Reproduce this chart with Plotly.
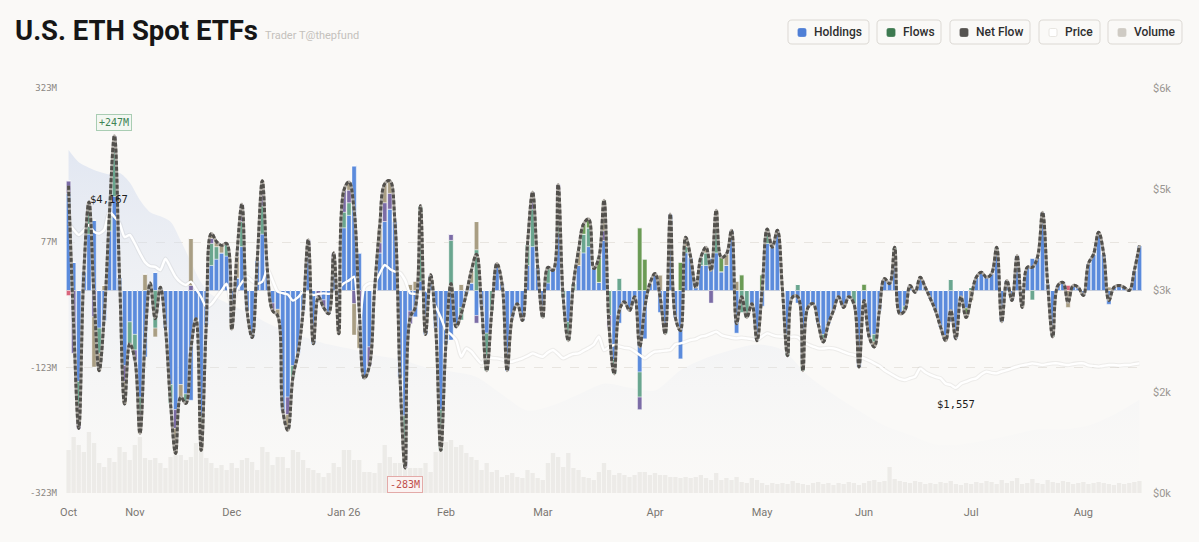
import pandas as pd
import plotly.graph_objects as go

# trading days shown on the chart (US market days)
holidays = ["2025-11-27", "2025-12-25", "2026-01-01", "2026-01-19", "2026-02-16",
            "2026-04-03", "2026-05-25", "2026-06-19", "2026-07-03"]
days = pd.bdate_range("2025-10-15", "2026-08-18")
days = days[~days.isin(pd.to_datetime(holidays))]
dates = [d.strftime("%Y-%m-%d") for d in days]

month_labels = ["Oct", "Nov", "Dec", "Jan 26", "Feb", "Mar", "Apr", "May", "Jun", "Jul", "Aug"]

# daily flows per fund group, $M
blue = [155, 45, -145, 30, 90, 112, -60, -48, 95, 150,
        21, -120, -50, -70, -170, -106, 12, 29, 5, -60,
        -150, -190, -150, -165, -175, -45, -200, -55, 40, 50,
        60, 55, -45, 20, 70, -32, -75, 48, 90, 32,
        -20, -30, -191, -170, -120, -100, -32, 60, -85, 0,
        -15, -37, 30, -50, 100, 120, 199, 60, -140, -90,
        0, 60, 110, 130, 110, -138, -200, -33, -42, 15,
        -70, 25, -60, -190, -85, -79, -58, -27, -5, 12,
        -40, -27, -68, 0, 43, 11, -128, -43, -21, -48,
        40, 70, 37, -30, 12, 32, 90, 0, -50, 0,
        40, 60, 70, 35, 13, 80, 0, -110, -52, -18,
        -32, -10, -130, -77, 11, 27, -35, -55, 122, -43,
        -109, 60, 53, 5, 40, 40, 52, 60, 30, 40,
        96, -68, 0, 0, -21, -80, -25, 75, 69, 96,
        0, -70, -10, -20, -110, -27, -21, -53, -70, -53,
        -32, -10, -27, -10, 0, -122, -26, -74, -70, -32,
        19, 11, 40, -37, -25, 8, -3, 21, 5, -13,
        -32, -58, -72, -50, -77, -10, -28, 0, 21, 29,
        21, 27, 60, -50, 16, -16, 56, -15, 37, 52,
        53, 125, 11, -60, 8, 13, 0, 8, 5, -8,
        43, 58, 93, 58, -22, 5, 8, 5, 0, 32,
        72]
teal = [0, 0, -40, 0, 40, 0, -40, 0, 25, 75,
        0, 0, -35, -25, -25, 0, 0, -60, 0, 0,
        -30, 0, 0, -15, 0, 0, -35, 0, 35, 20,
        0, 20, 0, 0, 40, 0, 0, 0, 45, 0,
        0, 0, 0, 0, -18, 0, 0, 0, 0, 0,
        0, 0, 0, 0, 25, 20, 0, 0, 0, 0,
        0, 0, 0, 0, 0, 0, -45, 0, 0, 120,
        0, 0, 0, -65, 0, 80, 0, -20, 0, 0,
        65, 0, -60, -32, 0, 0, 0, 0, 0, 0,
        34, 60, 0, -13, 25, 0, 40, -11, -30, 11,
        0, 30, 30, 0, 0, 0, -40, -23, 20, 0,
        0, 0, -40, 0, 0, 0, 0, -14, 0, 0,
        0, 10, 0, 0, 13, 20, 0, 50, 0, 0,
        0, 0, -35, -43, 0, 0, 0, 23, 0, 0,
        0, -34, 0, 10, -18, 0, 0, 0, -12, 0,
        0, 0, 0, 0, -21, 0, 0, 0, -12, 0,
        0, 0, 29, 0, -7, 0, 0, 0, 0, 0,
        0, 0, 0, 18, 0, 0, 0, 5, 0, 0,
        0, 0, 9, 0, 0, 0, 0, 0, 0, -15,
        0, 0, 0, -14, 0, 0, 0, 0, 0, 0,
        0, 0, 0, 0, 0, 0, 0, 0, 0, 0,
        0]
purple = [20, -100, -35, 0, 0, -42, 0, 0, 0, 22,
          0, -25, 0, -15, -15, 0, 0, 0, 0, 0,
          0, -30, 0, 0, 8, 0, 0, 0, 8, 0,
          0, 0, 0, 0, 28, 0, 0, 0, 25, 0,
          -12, 0, 0, -28, 0, 0, 0, 21, 0, -10,
          -12, 0, 30, 0, 35, 20, -21, -32, 0, -30,
          0, 16, 30, 25, 0, 0, -38, -20, 0, 0,
          0, 0, 0, 0, 0, 10, 0, 0, 0, 0,
          -12, 0, 0, 0, 0, 0, 0, 0, 0, 0,
          0, 27, 0, 0, 0, 0, 39, 0, 0, 0,
          0, 0, 0, 0, 0, 15, -18, 0, 0, 0,
          0, 0, -20, 0, 0, 0, 0, 0, 0, 0,
          0, 0, 0, 0, 0, 0, -20, 0, 0, 0,
          0, 0, 0, 0, 0, 0, 0, 0, 0, 0,
          0, 0, 0, 0, 0, 0, 0, 0, 0, 0,
          0, 0, 0, 0, 0, 0, 0, 0, 0, 0,
          0, 0, 0, 0, 0, 0, 0, 0, 0, 0,
          0, 0, 0, 0, 0, 0, 0, 0, 0, 0,
          0, 0, 0, 0, 0, 0, 0, 0, 0, 0,
          0, 0, 0, 0, 0, 0, 0, 0, 0, 0,
          0, 0, 0, 0, 0, 0, 0, 0, 0, 0,
          0]
khaki = [0, 0, 0, 0, 11, -80, -28, 8, 0, 0,
         0, -36, 0, 0, -18, 26, 0, -14, 0, 0,
         0, -40, -20, 0, 75, 0, -20, 0, 8, 8,
         12, 0, -17, 35, 0, 0, 0, 0, 15, 0,
         0, -10, 0, -25, 0, 0, 0, 0, 0, 0,
         0, 0, 0, -19, 0, 13, -50, -60, 0, 0,
         0, 25, 30, 20, 0, 0, 0, 10, 15, 0,
         0, 0, 0, 0, 0, 0, 0, 10, 0, 20,
         45, 0, 0, 0, 0, 0, 0, 0, 0, 0,
         0, 0, 0, 0, 0, 0, 0, 0, 0, 0,
         24, 0, 0, 0, 0, 29, 0, 0, 0, 0,
         0, 0, 0, 0, 0, 0, 25, 0, 0, 0,
         0, 15, 0, 0, 0, 9, 0, 18, 0, 18,
         0, 15, 0, 0, 0, 0, 0, 0, 0, 0,
         0, 0, 0, 0, 0, 0, 0, 0, 0, 0,
         0, 0, 0, 0, 0, 0, 0, 0, -8, 0,
         0, 0, 0, 0, 0, 0, 0, 0, 0, 0,
         0, 0, -8, 0, 0, 0, 0, -16, 0, 0,
         0, 0, 0, 0, 0, 0, 0, -12, 0, 0,
         0, 0, 0, 0, 0, 0, -27, 0, 0, 0,
         0, 0, 0, 0, 6, 0, 0, 0, 0, 0,
         0]
green = [0, 0, 0, 0, 0, 0, 0, 0, 0, 0,
         0, 0, 0, 0, 0, 0, 0, 0, 0, 0,
         0, 0, 0, 0, 0, 0, 0, 0, 0, 0,
         0, 0, 0, 0, 0, 0, 0, 0, 0, 0,
         0, 0, 0, 0, 0, 0, 0, 0, 0, 0,
         0, 0, 0, 0, 0, 0, 0, 0, 0, 0,
         0, 0, 0, 0, 0, 0, 0, 0, 0, 0,
         0, 0, 0, 0, 0, 0, 0, 0, 0, 0,
         0, 0, 0, 0, 0, 0, 0, 0, 0, 0,
         0, 0, 0, 0, 0, 0, 0, 0, 0, 0,
         0, 16, 14, 0, 40, 20, 0, 0, 0, 0,
         0, 0, 100, 50, 0, 0, 0, 0, 0, 0,
         45, 0, 0, 0, 0, 0, 0, 0, 23, 0,
         0, 0, 25, 0, 0, 0, 25, 0, 0, 0,
         0, 0, 0, 0, 0, 0, 0, 0, 0, 0,
         0, 0, 0, 0, 0, 0, 10, 0, 0, 0,
         0, 0, 0, 0, 0, 0, 0, 0, 0, 0,
         0, 0, 0, 0, 0, 0, -15, 0, 0, 0,
         0, 0, 0, 0, 0, 0, 0, 0, 0, 0,
         0, 0, 0, 0, 0, 0, 0, 0, 0, 0,
         0, 0, 0, 0, 0, 0, 0, 0, 0, 0,
         0]
pink = [-8] + [0] * 195 + [8] + [0] * 14

# ETH price, USD
price = [3996, 3900, 3822, 3890, 3970, 3870, 3845, 3900, 4167, 4090,
         3996, 3790, 3822, 3700, 3551, 3420, 3360, 3350, 3304, 3470,
         3340, 3200, 3120, 3082, 3131, 3020, 2900, 2760, 2800, 2900,
         3000, 3100, 2760, 3000, 3120, 3205, 3140, 3100, 3131, 3320,
         3150, 2983, 2960, 2940, 2850, 2900, 2980, 2960, 2933, 2950,
         2958, 2950, 2960, 3030, 3107, 3150, 3205, 2415, 3050, 3107,
         3107, 3250, 3378, 3320, 3279, 3260, 3150, 2958, 2950, 2933,
         3008, 2900, 2760, 2600, 2415, 2350, 2267, 2019, 2143, 2093,
         2000, 1921, 2019, 2000, 1995, 1980, 1950, 1945, 1970, 1995,
         2030, 2068, 2040, 2019, 2080, 2118, 2060, 1995, 2030, 2060,
         2068, 2110, 2150, 2200, 2316, 2118, 2160, 2193, 2170, 2150,
         2143, 2100, 2044, 1995, 2050, 2093, 2100, 2110, 2118, 2200,
         2217, 2240, 2267, 2280, 2316, 2330, 2360, 2390, 2340, 2316,
         2300, 2291, 2300, 2291, 2280, 2267, 2320, 2365, 2340, 2320,
         2316, 2300, 2316, 2310, 2242, 2200, 2170, 2143, 2140, 2150,
         2143, 2120, 2090, 2060, 2044, 2020, 1995, 1960, 1921, 1880,
         1820, 1773, 1730, 1690, 1674, 1700, 1724, 1847, 1790, 1750,
         1720, 1699, 1620, 1600, 1557, 1620, 1649, 1680, 1699, 1760,
         1798, 1780, 1773, 1800, 1820, 1847, 1870, 1890, 1905, 1921,
         1910, 1896, 1910, 1921, 1921, 1905, 1896, 1910, 1921, 1921,
         1890, 1880, 1872, 1885, 1896, 1896, 1890, 1896, 1896, 1910,
         1921]

# traded volume, $M
volume = [1720, 2240, 1920, 1640, 2440, 2000, 1200, 1040, 1400, 1240,
          1840, 1640, 1320, 1920, 2240, 1400, 1320, 1400, 1200, 1000,
          1440, 1520, 1520, 1320, 1440, 2000, 1840, 1400, 1200, 1000,
          1120, 920, 1200, 1000, 1320, 1400, 1240, 920, 1840, 1640,
          1120, 1440, 1440, 1000, 1720, 1640, 1320, 1000, 920, 800,
          640, 800, 1200, 1040, 1720, 1720, 1320, 1320, 840, 840,
          800, 1200, 1920, 1440, 1200, 1200, 1320, 1000, 1000, 1000,
          1200, 840, 1640, 1720, 2040, 2120, 1840, 1920, 1600, 1440,
          1320, 920, 1200, 840, 920, 640, 720, 800, 640, 600,
          920, 800, 600, 520, 1200, 1600, 1440, 1040, 1600, 1000,
          920, 640, 600, 520, 840, 1200, 920, 720, 800, 720,
          640, 720, 840, 840, 720, 800, 720, 720, 640, 640,
          600, 640, 600, 640, 720, 600, 520, 800, 520, 600,
          520, 640, 440, 400, 600, 520, 400, 320, 400, 360,
          400, 360, 480, 400, 360, 320, 400, 440, 360, 400,
          320, 400, 360, 440, 400, 320, 400, 480, 520, 440,
          480, 1040, 560, 480, 440, 400, 480, 440, 360, 400,
          360, 440, 400, 480, 360, 320, 400, 360, 440, 400,
          480, 440, 360, 520, 400, 480, 600, 360, 400, 560,
          400, 360, 520, 440, 400, 480, 440, 360, 400, 440,
          360, 400, 440, 400, 360, 320, 400, 360, 400, 440,
          480]

# total holdings, $B (read every few sessions)
holdings_idx = [0, 2, 4, 6, 8, 10, 12, 14, 16, 18, 20, 22, 24, 26, 28, 32, 36, 40, 45,
                50, 55, 60, 65, 70, 75, 80, 85, 90, 95, 100, 105, 110, 115, 120, 125,
                130, 135, 140, 145, 150, 155, 160, 165, 170, 175, 180, 185, 190, 195,
                200, 205, 210]
holdings_b = [25.4, 24.5, 24.1, 23.8, 23.6, 23.7, 23.0, 21.7, 20.8, 20.5, 20.1, 18.7,
              17.1, 15.6, 14.7, 13.9, 13.2, 12.4, 11.7, 11.1, 10.7, 10.2, 9.9, 9.3, 9.0,
              8.6, 7.3, 6.1, 6.5, 7.3, 8.1, 7.8, 7.6, 9.1, 10.0, 10.6, 11.0, 10.6, 8.7,
              7.3, 6.1, 5.0, 4.3, 3.6, 3.6, 3.9, 4.3, 4.7, 4.7, 5.0, 5.8, 6.9]

net_flow = [b + t + p + k + g + r for b, t, p, k, g, r in zip(blue, teal, purple, khaki, green, pink)]
month_ticks = [d for k, d in enumerate(dates) if k == 0 or d[:7] != dates[k - 1][:7]]

BG = "#faf9f7"
W, H = 1199, 542
ML, MR, MT, MB = 66, 57, 88, 49
PW, PH = W - ML - MR, H - MT - MB


def px(x):
    return (x - ML) / PW


def py(y):
    return (H - MB - y) / PH


def rrect(x0, y0, x1, y1, r):
    # rounded rectangle path in paper coords, input in pixels
    pts = [("M", x0 + r, y0), ("L", x1 - r, y0), ("Q", x1, y0, x1, y0 + r),
           ("L", x1, y1 - r), ("Q", x1, y1, x1 - r, y1), ("L", x0 + r, y1),
           ("Q", x0, y1, x0, y1 - r), ("L", x0, y0 + r), ("Q", x0, y0, x0 + r, y0)]
    out = ""
    for p in pts:
        c = p[1:]
        xy = []
        for j in range(0, len(c), 2):
            xy.append(f"{px(c[j]):.5f},{py(c[j + 1]):.5f}")
        out += p[0] + " " + " ".join(xy) + " "
    return out + "Z"


fig = go.Figure()

# holdings area in the background
fig.add_trace(go.Scatter(
    x=[dates[i] for i in holdings_idx], y=holdings_b, yaxis="y",
    mode="lines", line=dict(width=0, shape="spline", smoothing=0.8),
    fill="tozeroy",
    fillgradient=dict(type="vertical", start=0, stop=26,
                      colorscale=[[0, "rgba(235,237,243,0)"], [0.3, "rgba(225,230,240,0.16)"],
                                  [1, "rgba(208,218,238,0.6)"]]),
    hoverinfo="skip"))

# volume
fig.add_trace(go.Bar(x=dates, y=volume, yaxis="y2",
                     marker=dict(color="rgba(200,196,188,0.26)", line=dict(width=0))))

# fund flows
for vals, col in [(blue, "#5b8bdc"), (teal, "#6aa68f"), (purple, "#7b6ca6"),
                  (khaki, "#a99e83"), (green, "#6b9b55"), (pink, "#d9667c")]:
    fig.add_trace(go.Bar(x=dates, y=vals, yaxis="y3",
                         marker=dict(color=col, line=dict(color="rgba(255,255,255,0.8)", width=0.5))))

# price
fig.add_trace(go.Scatter(x=dates, y=price, yaxis="y4", mode="lines",
                         line=dict(color="rgba(90,90,90,0.08)", width=4.5, shape="spline", smoothing=0.6),
                         hoverinfo="skip"))
fig.add_trace(go.Scatter(x=dates, y=price, yaxis="y4", mode="lines",
                         line=dict(color="#ffffff", width=2.4, shape="spline", smoothing=0.6)))

# net flow line
fig.add_trace(go.Scatter(x=dates, y=net_flow, yaxis="y5", mode="lines",
                         line=dict(color="#aeaaa4", width=3, shape="spline", smoothing=1.1),
                         hoverinfo="skip"))
fig.add_trace(go.Scatter(x=dates, y=net_flow, yaxis="y5", mode="lines",
                         line=dict(color="#52504c", width=3, shape="spline", smoothing=1.1, dash="4px,2px")))

flow_range = [-323, 323]
fig.update_layout(
    width=W, height=H,
    margin=dict(l=ML, r=MR, t=MT, b=MB),
    paper_bgcolor=BG, plot_bgcolor=BG,
    showlegend=False,
    barmode="relative", bargap=0.16,
    xaxis=dict(type="category", categoryorder="array", categoryarray=dates,
               range=[-0.5, len(dates) - 0.5], tickvals=month_ticks, ticktext=month_labels,
               showgrid=False, zeroline=False, showline=False, ticks="",
               tickfont=dict(family="Roboto", size=11, color="#7a7772"), ticklabelstandoff=11),
    yaxis=dict(range=[0, 30], visible=False),
    yaxis2=dict(overlaying="y", range=[0, 16200], visible=False),
    yaxis3=dict(overlaying="y", side="left", range=flow_range,
                tickvals=[-323, -123, 77, 323], ticktext=["-323M", "-123M", "77M", "323M"],
                showgrid=True, gridcolor="#e8e5e0", griddash="dash", gridwidth=1,
                zeroline=True, zerolinecolor="#c6c2bb", zerolinewidth=1, ticks="",
                tickfont=dict(family="DejaVu Sans Mono", size=9, color="#8a8782"),
                ticklabelstandoff=8),
    yaxis4=dict(overlaying="y", side="right", range=[0, 6000],
                tickvals=[0, 1500, 3000, 4500, 6000], ticktext=["$0k", "$2k", "$3k", "$5k", "$6k"],
                showgrid=False, zeroline=False, ticks="",
                tickfont=dict(family="Roboto", size=11, color="#9a9792"), ticklabelstandoff=10),
    yaxis5=dict(overlaying="y", range=flow_range, visible=False),
)

ann = []
# title + byline
ann.append(dict(xref="paper", yref="paper", x=px(13), y=py(31), xanchor="left", yanchor="middle",
                text="<b>U.S. ETH Spot ETFs</b>", showarrow=False,
                font=dict(family="Roboto", size=27.5, color="#161616")))
ann.append(dict(xref="paper", yref="paper", x=px(263), y=py(35), xanchor="left", yanchor="middle",
                text="Trader T@thepfund", showarrow=False,
                font=dict(family="Roboto", size=11, color="#c4c1bc")))

# callouts
imax = net_flow.index(max(net_flow))
imin = net_flow.index(min(net_flow))
ann.append(dict(x=dates[imax], y=max(net_flow), xref="x", yref="y3", yshift=13,
                text=f"+{max(net_flow)}M", showarrow=False, bgcolor="#f3f7f2",
                bordercolor="#a9cdb3", borderwidth=1, borderpad=2,
                font=dict(family="DejaVu Sans Mono", size=10, color="#3f8455")))
ann.append(dict(x=dates[imin], y=min(net_flow), xref="x", yref="y3", yshift=-17,
                text=f"{min(net_flow)}M", showarrow=False, bgcolor="#fbf3f2",
                bordercolor="#e3aaa8", borderwidth=1, borderpad=2,
                font=dict(family="DejaVu Sans Mono", size=10, color="#c0504d")))
pmax = price.index(max(price))
pmin = price.index(min(price))
ann.append(dict(x=dates[pmax], y=max(price), xref="x", yref="y4", yshift=13,
                text=f"${max(price):,}", showarrow=False,
                font=dict(family="DejaVu Sans Mono", size=10.5, color="#1e1e1e")))
ann.append(dict(x=dates[pmin], y=min(price), xref="x", yref="y4", yshift=-16,
                text=f"${min(price):,}", showarrow=False,
                font=dict(family="DejaVu Sans Mono", size=10.5, color="#1e1e1e")))

# legend buttons
shapes = []
legend_items = [("Holdings", "#4f7fd6", 788, 869), ("Flows", "#3d7a50", 877, 941),
                ("Net Flow", "#555350", 950, 1030), ("Price", "#ffffff", 1039, 1100),
                ("Volume", "#cfcbc4", 1108, 1182)]
for label, col, x0, x1 in legend_items:
    shapes.append(dict(type="path", xref="paper", yref="paper", path=rrect(x0, 20, x1, 44, 4),
                       line=dict(color="#dcd9d4", width=1), fillcolor=BG, layer="above"))
    shapes.append(dict(type="path", xref="paper", yref="paper",
                       path=rrect(x0 + 10, 28.5, x0 + 18, 36.5, 1.5),
                       line=dict(color="#e2dfda" if col == "#ffffff" else col, width=0.8),
                       fillcolor=col, layer="above"))
    ann.append(dict(xref="paper", yref="paper", x=px(x0 + 24), y=py(32.5), xanchor="left",
                    yanchor="middle", text=label, showarrow=False,
                    font=dict(family="Roboto", size=12, color="#2e2e2e", weight=500)))

fig.update_layout(annotations=ann, shapes=shapes)
fig.write_html("out.html", config={"displayModeBar": False},
               post_script="document.body.style.margin = '0';")
